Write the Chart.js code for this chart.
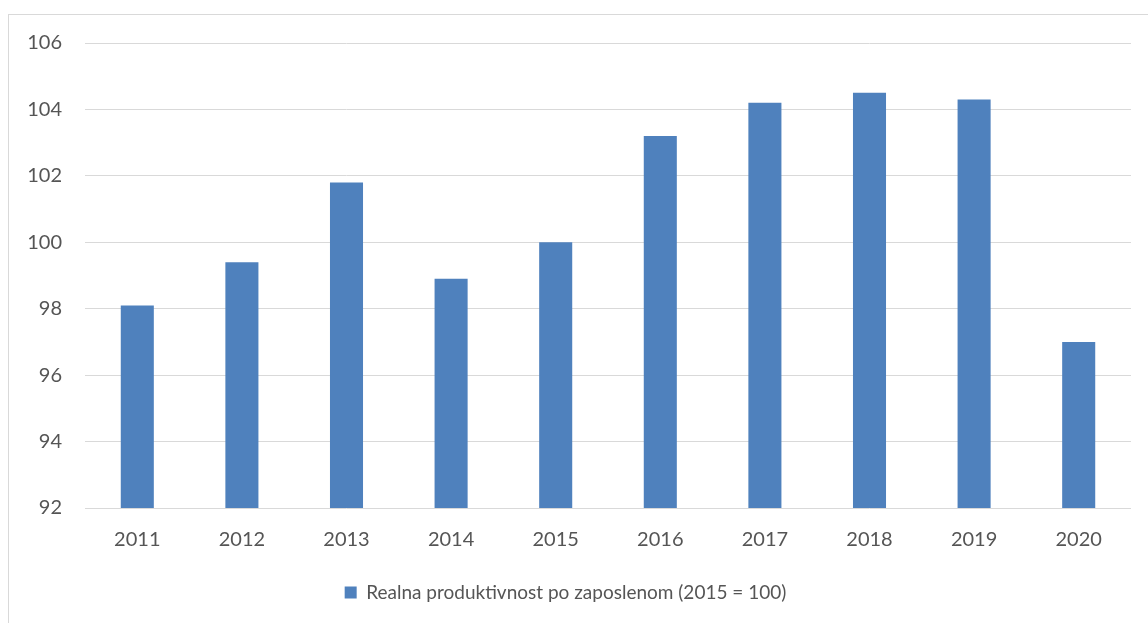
<!DOCTYPE html>
<html>
<head>
<meta charset="utf-8">
<script src="https://cdn.jsdelivr.net/npm/chart.js@4.4.1/dist/chart.umd.min.js"></script>
<style>
  html, body { margin: 0; padding: 0; background: #fff; overflow: hidden; }
  #frame {
    position: absolute; left: 8px; top: 14px; width: 1300px; height: 800px;
    border: 1px solid #d9d9d9; box-sizing: border-box;
  }
  #wrap { position: absolute; left: 0; top: 0; width: 1148px; height: 623px; }
</style>
</head>
<body>
<div id="frame"></div>
<div id="wrap"><canvas id="chart"></canvas></div>
<script>
// podaci s grafikona
const godine = ['2011', '2012', '2013', '2014', '2015', '2016', '2017', '2018', '2019', '2020'];
const produktivnost = [98.1, 99.4, 101.8, 98.9, 100.0, 103.2, 104.2, 104.5, 104.3, 97.0];
const nazivSerije = 'Realna produktivnost po zaposlenom (2015 = 100)';
const yMin = 92;
const yMax = 106;
const yKorak = 2;

const bojaTeksta = '#555555';
const font = { family: 'Lato, "Open Sans", sans-serif', size: 20 };
const fontLegenda = { family: 'Lato, "Open Sans", sans-serif', size: 19 };

const ctx = document.getElementById('chart').getContext('2d');
new Chart(ctx, {
  type: 'bar',
  data: {
    labels: godine,
    datasets: [{
      label: nazivSerije,
      data: produktivnost,
      backgroundColor: '#4F81BD',
      borderWidth: 0,
      categoryPercentage: 1,
      barPercentage: 0.316
    }]
  },
  options: {
    responsive: true,
    maintainAspectRatio: false,
    animation: false,
    layout: { padding: { left: 0, right: 17, top: 43, bottom: 11 } },
    scales: {
      x: {
        grid: { display: false },
        border: { display: false },
        ticks: { color: bojaTeksta, font: font, padding: 12, maxRotation: 0 },
        afterFit: (scale) => { scale.height = 65; }
      },
      y: {
        min: yMin,
        max: yMax,
        grid: { color: '#d9d9d9', lineWidth: 1, drawTicks: false },
        border: { display: false },
        ticks: { stepSize: yKorak, color: bojaTeksta, font: font, padding: 23 },
        afterFit: (scale) => { scale.width = 85; }
      }
    },
    plugins: {
      legend: {
        position: 'bottom',
        labels: { color: bojaTeksta, font: fontLegenda, boxWidth: 12, boxHeight: 12, padding: 10 }
      },
      tooltip: { enabled: false }
    }
  }
});
</script>
</body>
</html>
